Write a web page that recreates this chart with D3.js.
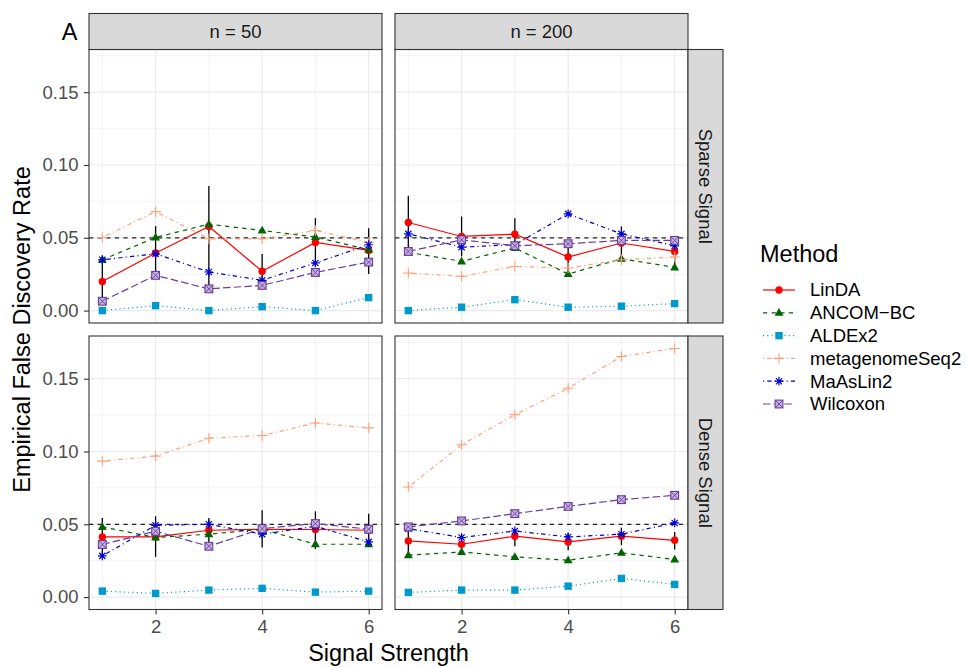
<!DOCTYPE html>
<html><head><meta charset="utf-8">
<script src="https://cdn.jsdelivr.net/npm/d3@7"></script>
<style>body{margin:0;background:#fff;} svg{display:block;font-family:"Liberation Sans",Arial,Helvetica,sans-serif;}</style>
</head><body>
<svg id="chart" width="967" height="667"></svg>
<script>
// ---------------- data ----------------
const signalStrength = [1, 2, 3, 4, 5, 6];
const methods = ["LinDA", "ANCOM\u2212BC", "ALDEx2", "metagenomeSeq2", "MaAsLin2", "Wilcoxon"];
const sampleSizes = ["n = 50", "n = 200"];
const signalTypes = ["Sparse Signal", "Dense Signal"];
const yTicks = [0.00, 0.05, 0.10, 0.15];
const xTicks = [2, 4, 6];
const targetFDR = 0.05;

// n = 50, Sparse
const n50_sparse_LinDA    = [0.020, 0.0395, 0.0578, 0.027, 0.0468, 0.0413];
const n50_sparse_ANCOMBC  = [0.0349, 0.0502, 0.0594, 0.055, 0.0505, 0.0418];
const n50_sparse_ALDEx2   = [0.000, 0.0034, 0.000, 0.0027, 0.000, 0.0089];
const n50_sparse_mgSeq2   = [0.0502, 0.068, 0.0493, 0.0493, 0.055, 0.0468];
const n50_sparse_MaAsLin2 = [0.0349, 0.039, 0.0265, 0.0208, 0.0327, 0.0452];
const n50_sparse_Wilcoxon = [0.0064, 0.0242, 0.0149, 0.0173, 0.0262, 0.0333];
const n50_sparse_LinDA_lo = [0.0053, 0.0247, 0.0144, 0.0155, 0.0303, 0.0251];
const n50_sparse_LinDA_hi = [0.0349, 0.058, 0.0856, 0.0388, 0.0635, 0.0566];
// n = 200, Sparse
const n200_sparse_LinDA    = [0.0605, 0.0509, 0.0525, 0.0368, 0.0464, 0.0406];
const n200_sparse_ANCOMBC  = [0.040, 0.0338, 0.043, 0.0251, 0.0356, 0.0297];
const n200_sparse_ALDEx2   = [0.000, 0.0023, 0.0075, 0.0023, 0.003, 0.0048];
const n200_sparse_mgSeq2   = [0.0258, 0.0235, 0.0303, 0.0292, 0.0349, 0.0368];
const n200_sparse_MaAsLin2 = [0.0527, 0.0436, 0.0452, 0.0664, 0.0527, 0.0445];
const n200_sparse_Wilcoxon = [0.0406, 0.0486, 0.0445, 0.0459, 0.0482, 0.0482];
const n200_sparse_LinDA_lo = [0.0418, 0.0372, 0.043, 0.0247, 0.0372, 0.0299];
const n200_sparse_LinDA_hi = [0.0788, 0.0646, 0.0635, 0.0486, 0.0578, 0.0509];
// n = 50, Dense
const n50_dense_LinDA    = [0.0413, 0.0413, 0.0459, 0.0466, 0.0464, 0.0459];
const n50_dense_ANCOMBC  = [0.0482, 0.0409, 0.0432, 0.0466, 0.0363, 0.0363];
const n50_dense_ALDEx2   = [0.0041, 0.0025, 0.0048, 0.006, 0.0034, 0.0041];
const n50_dense_mgSeq2   = [0.0934, 0.0968, 0.1091, 0.111, 0.1196, 0.1162];
const n50_dense_MaAsLin2 = [0.0283, 0.0493, 0.050, 0.0432, 0.0486, 0.0379];
const n50_dense_Wilcoxon = [0.0361, 0.0452, 0.0349, 0.047, 0.0505, 0.0466];
const n50_dense_LinDA_lo = [0.0276, 0.0276, 0.0377, 0.034, 0.0329, 0.0345];
const n50_dense_LinDA_hi = [0.0543, 0.0555, 0.0543, 0.0596, 0.0589, 0.0573];
// n = 200, Dense
const n200_dense_LinDA    = [0.0386, 0.0363, 0.0418, 0.0379, 0.0418, 0.039];
const n200_dense_ANCOMBC  = [0.0288, 0.031, 0.0276, 0.0253, 0.0304, 0.0258];
const n200_dense_ALDEx2   = [0.0032, 0.0048, 0.0048, 0.0075, 0.0128, 0.0087];
const n200_dense_mgSeq2   = [0.0756, 0.1046, 0.1253, 0.1434, 0.1653, 0.1708];
const n200_dense_MaAsLin2 = [0.047, 0.0409, 0.0454, 0.0413, 0.0432, 0.0509];
const n200_dense_Wilcoxon = [0.0482, 0.0523, 0.0573, 0.0623, 0.0669, 0.0699];
const n200_dense_LinDA_lo = [0.031, 0.0304, 0.0349, 0.0322, 0.0356, 0.0327];
const n200_dense_LinDA_hi = [0.0493, 0.0432, 0.0464, 0.044, 0.0477, 0.0447];

// ---------------- assemble ----------------
const panels = [
  {row: 0, col: 0, series: [n50_sparse_LinDA, n50_sparse_ANCOMBC, n50_sparse_ALDEx2, n50_sparse_mgSeq2, n50_sparse_MaAsLin2, n50_sparse_Wilcoxon], lo: n50_sparse_LinDA_lo, hi: n50_sparse_LinDA_hi},
  {row: 0, col: 1, series: [n200_sparse_LinDA, n200_sparse_ANCOMBC, n200_sparse_ALDEx2, n200_sparse_mgSeq2, n200_sparse_MaAsLin2, n200_sparse_Wilcoxon], lo: n200_sparse_LinDA_lo, hi: n200_sparse_LinDA_hi},
  {row: 1, col: 0, series: [n50_dense_LinDA, n50_dense_ANCOMBC, n50_dense_ALDEx2, n50_dense_mgSeq2, n50_dense_MaAsLin2, n50_dense_Wilcoxon], lo: n50_dense_LinDA_lo, hi: n50_dense_LinDA_hi},
  {row: 1, col: 1, series: [n200_dense_LinDA, n200_dense_ANCOMBC, n200_dense_ALDEx2, n200_dense_mgSeq2, n200_dense_MaAsLin2, n200_dense_Wilcoxon], lo: n200_dense_LinDA_lo, hi: n200_dense_LinDA_hi}
];

const styles = [
  {color: "#FF0000", dash: null,            shape: "circle"},
  {color: "#006400", dash: "4.3,4.3",       shape: "triangle"},
  {color: "#0099CC", dash: "1.1,3.2",       shape: "square"},
  {color: "#FFA07A", dash: "1.1,3.2,4.3,3.2", shape: "plus"},
  {color: "#0000CD", dash: "1.1,3.2,4.3,3.2", shape: "asterisk"},
  {color: "#6A3D9A", dash: "7.5,3.2",       shape: "squarecross"}
];

const FONT = '"Liberation Sans",Arial,Helvetica,sans-serif';
const smallSize = 18.5, bigSize = 23.5;

// ---------------- layout ----------------
const svg = d3.select("#chart");
const colX = [89, 395], panelW = 293;
const rowY = [49.5, 336], panelH = 273.5;

let allVals = [];
panels.forEach(p => { p.series.forEach(s => allVals.push(...s)); allVals.push(...p.lo, ...p.hi); });
const yMin = Math.min(0, d3.min(allVals)), yMax = d3.max(allVals);
const yPad = (yMax - yMin) * 0.05;
const xPad = (d3.max(signalStrength) - d3.min(signalStrength)) * 0.05;

function drawShape(g, shape, color, x, y) {
  if (shape === "circle") {
    g.append("circle").attr("cx", x).attr("cy", y).attr("r", 3.7).attr("fill", color);
  } else if (shape === "triangle") {
    const s = 4.7;
    g.append("path").attr("d", `M${x},${y - s}L${x + s * 0.95},${y + s * 0.65}L${x - s * 0.95},${y + s * 0.65}Z`).attr("fill", color);
  } else if (shape === "square") {
    g.append("rect").attr("x", x - 3.7).attr("y", y - 3.7).attr("width", 7.4).attr("height", 7.4).attr("fill", color);
  } else if (shape === "plus") {
    const s = 5.2;
    g.append("path").attr("d", `M${x - s},${y}H${x + s}M${x},${y - s}V${y + s}`).attr("stroke", color).attr("stroke-width", 1.1).attr("fill", "none");
  } else if (shape === "asterisk") {
    const s = 4.4, d = s * 0.707;
    g.append("path").attr("d", `M${x - s},${y}H${x + s}M${x},${y - s}V${y + s}M${x - d},${y - d}L${x + d},${y + d}M${x - d},${y + d}L${x + d},${y - d}`)
      .attr("stroke", color).attr("stroke-width", 1.2).attr("fill", "none");
  } else if (shape === "squarecross") {
    const s = 3.9;
    g.append("rect").attr("x", x - s).attr("y", y - s).attr("width", 2 * s).attr("height", 2 * s)
      .attr("fill", "#C4B2E0").attr("stroke", color).attr("stroke-width", 1.1);
    g.append("path").attr("d", `M${x - s},${y - s}L${x + s},${y + s}M${x - s},${y + s}L${x + s},${y - s}`)
      .attr("stroke", color).attr("stroke-width", 0.9).attr("fill", "none");
  }
}

panels.forEach(p => {
  const x0 = colX[p.col], y0 = rowY[p.row];
  const x = d3.scaleLinear().domain([d3.min(signalStrength) - xPad, d3.max(signalStrength) + xPad]).range([x0, x0 + panelW]);
  const y = d3.scaleLinear().domain([yMin - yPad, yMax + yPad]).range([y0 + panelH, y0]);
  const g = svg.append("g");
  g.append("rect").attr("x", x0).attr("y", y0).attr("width", panelW).attr("height", panelH).attr("fill", "#fff");
  // minor grid
  const xMinor = [1, 3, 5];
  const yMinor = [0.025, 0.075, 0.125, 0.175].filter(v => v > y.domain()[0] && v < y.domain()[1]);
  xMinor.forEach(v => g.append("line").attr("x1", x(v)).attr("x2", x(v)).attr("y1", y0).attr("y2", y0 + panelH).attr("stroke", "#EBEBEB").attr("stroke-width", 0.6));
  yMinor.forEach(v => g.append("line").attr("y1", y(v)).attr("y2", y(v)).attr("x1", x0).attr("x2", x0 + panelW).attr("stroke", "#EBEBEB").attr("stroke-width", 0.6));
  xTicks.forEach(v => g.append("line").attr("x1", x(v)).attr("x2", x(v)).attr("y1", y0).attr("y2", y0 + panelH).attr("stroke", "#EBEBEB").attr("stroke-width", 1.2));
  yTicks.forEach(v => g.append("line").attr("y1", y(v)).attr("y2", y(v)).attr("x1", x0).attr("x2", x0 + panelW).attr("stroke", "#EBEBEB").attr("stroke-width", 1.2));
  // reference line
  g.append("line").attr("x1", x0).attr("x2", x0 + panelW).attr("y1", y(targetFDR)).attr("y2", y(targetFDR))
    .attr("stroke", "#000").attr("stroke-width", 1.2).attr("stroke-dasharray", "4.3,4.3").attr("opacity", 0.85);
  // error bars (LinDA)
  signalStrength.forEach((s, i) => {
    g.append("line").attr("x1", x(s)).attr("x2", x(s)).attr("y1", y(p.lo[i])).attr("y2", y(p.hi[i]))
      .attr("stroke", "#000").attr("stroke-width", 1.3);
  });
  // lines
  const line = d3.line().x((d, i) => x(signalStrength[i])).y(d => y(d));
  p.series.forEach((s, m) => {
    g.append("path").datum(s).attr("d", line).attr("fill", "none").attr("stroke", styles[m].color)
      .attr("stroke-width", 1.2).attr("stroke-dasharray", styles[m].dash);
  });
  p.series.forEach((s, m) => {
    s.forEach((v, i) => drawShape(g, styles[m].shape, styles[m].color, x(signalStrength[i]), y(v)));
  });
  // border
  g.append("rect").attr("x", x0).attr("y", y0).attr("width", panelW).attr("height", panelH).attr("fill", "none").attr("stroke", "#333333").attr("stroke-width", 1.1);
  // y axis (left column)
  if (p.col === 0) {
    const ax = svg.append("g").attr("transform", `translate(${x0},0)`)
      .call(d3.axisLeft(y).tickValues(yTicks).tickFormat(d3.format(".2f")).tickSize(5).tickPadding(5.5));
    ax.select(".domain").remove();
    ax.selectAll("line").attr("stroke", "#333333").attr("stroke-width", 1.1);
    ax.selectAll("text").attr("fill", "#4D4D4D").attr("font-size", smallSize).attr("font-family", FONT);
  }
  // x axis (bottom row)
  if (p.row === 1) {
    const ax = svg.append("g").attr("transform", `translate(0,${y0 + panelH})`)
      .call(d3.axisBottom(x).tickValues(xTicks).tickFormat(d3.format("d")).tickSize(5).tickPadding(5.5));
    ax.select(".domain").remove();
    ax.selectAll("line").attr("stroke", "#333333").attr("stroke-width", 1.1);
    ax.selectAll("text").attr("fill", "#4D4D4D").attr("font-size", smallSize).attr("font-family", FONT);
  }
});

// strips
sampleSizes.forEach((lab, c) => {
  svg.append("rect").attr("x", colX[c]).attr("y", 13.5).attr("width", panelW).attr("height", 36)
    .attr("fill", "#D9D9D9").attr("stroke", "#333333").attr("stroke-width", 1.1);
  svg.append("text").attr("x", colX[c] + panelW / 2).attr("y", 31.5).attr("dy", "0.35em").attr("text-anchor", "middle")
    .attr("font-size", smallSize).attr("fill", "#1A1A1A").text(lab);
});
signalTypes.forEach((lab, r) => {
  const sx = colX[1] + panelW;
  svg.append("rect").attr("x", sx).attr("y", rowY[r]).attr("width", 35).attr("height", panelH)
    .attr("fill", "#D9D9D9").attr("stroke", "#333333").attr("stroke-width", 1.1);
  svg.append("text").attr("transform", `translate(${sx + 17.5},${rowY[r] + panelH / 2}) rotate(90)`).attr("dy", "0.35em")
    .attr("text-anchor", "middle").attr("font-size", smallSize).attr("fill", "#1A1A1A").text(lab);
});

// titles
svg.append("text").attr("x", 388.5).attr("y", 661).attr("text-anchor", "middle").attr("font-size", bigSize).attr("fill", "#000").text("Signal Strength");
svg.append("text").attr("transform", `translate(30,${(rowY[0] + rowY[1] + panelH) / 2}) rotate(-90)`).attr("text-anchor", "middle")
  .attr("font-size", bigSize).attr("fill", "#000").text("Empirical False Discovery Rate");
svg.append("text").attr("x", 69.5).attr("y", 40).attr("text-anchor", "middle").attr("font-size", bigSize).attr("fill", "#000").text("A");

// legend
const lg = svg.append("g");
lg.append("text").attr("x", 760).attr("y", 262).attr("font-size", bigSize).attr("fill", "#000").text("Method");
methods.forEach((m, i) => {
  const yy = 290 + i * 22.8;
  lg.append("line").attr("x1", 763).attr("x2", 795).attr("y1", yy).attr("y2", yy).attr("stroke", styles[i].color)
    .attr("stroke-width", 1.2).attr("stroke-dasharray", styles[i].dash);
  drawShape(lg, styles[i].shape, styles[i].color, 779, yy);
  lg.append("text").attr("x", 810).attr("y", yy).attr("dy", "0.35em").attr("font-size", smallSize).attr("fill", "#000").text(m);
});
</script>
</body></html>
